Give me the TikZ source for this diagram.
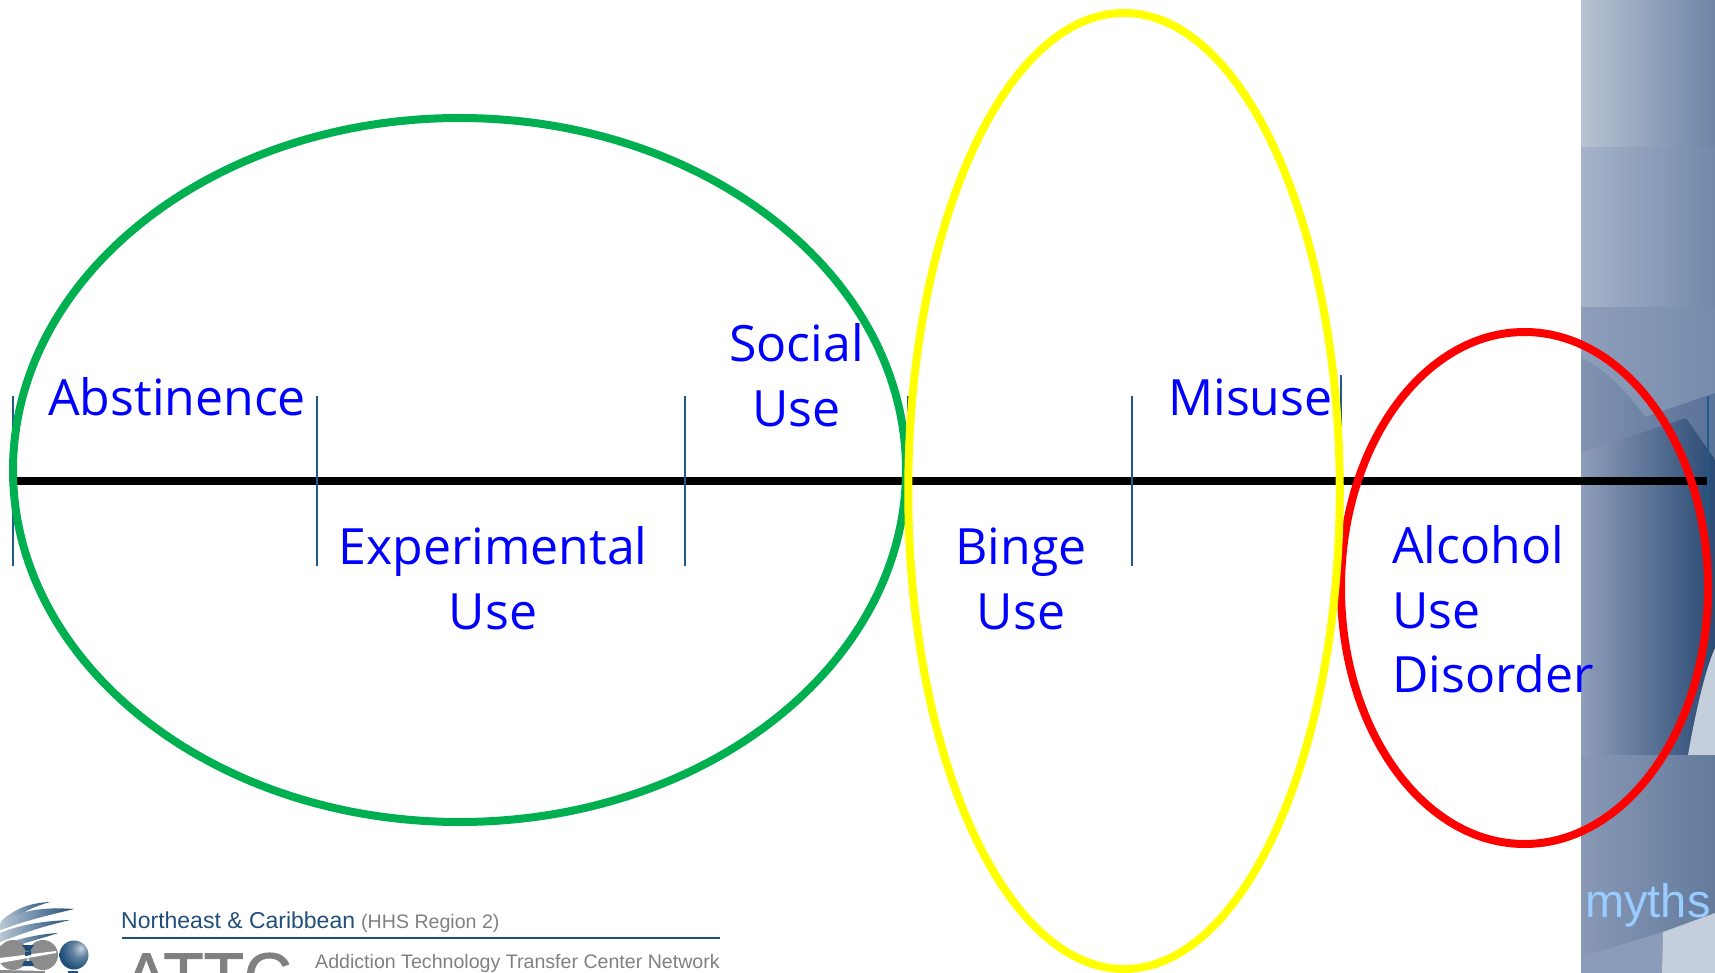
\documentclass[tikz,border=0pt]{standalone}
\usepackage{fontspec}
\setmainfont{Open Sans}
\newfontfamily\arialf{Liberation Sans}
\newfontfamily\attcf[RawFeature={embolden=1.5}]{Liberation Sans}
\definecolor{labelblue}{HTML}{0000FF}
\definecolor{ovalgreen}{HTML}{00B050}
\definecolor{ovalyellow}{HTML}{FFFF00}
\definecolor{ovalred}{HTML}{FF0000}
\definecolor{tickblue}{HTML}{1F5A8A}
\definecolor{logoblue}{HTML}{1F4E79}
\definecolor{logogray}{HTML}{8C8C8C}
\pgfdeclareradialshading{logoball}{\pgfpoint{12bp}{12bp}}{color(0bp)=(white!75!logoblue);color(14bp)=(logoblue!70!white);color(32bp)=(logoblue);color(100bp)=(logoblue)}
\tikzset{
  x=1pt,y=-1pt,
  oval/.style={line width=8pt,draw},
  axisline/.style={line width=8pt,black},
  tickmark/.style={line width=2pt,tickblue},
  lab/.style={inner sep=0pt,anchor=base,text=labelblue,font=\fontsize{50}{64.5}\selectfont},
  labl/.style={lab,anchor=base west},
  stripe/.style={left color=logoblue!30,right color=logoblue,draw=none},
}
\begin{document}
\begin{tikzpicture}
\useasboundingbox (0,0) rectangle (1715,973);
\clip (0,0) rectangle (1715,973);
% side panel
\shade[left color={rgb,255:red,184;green,194;blue,210},right color={rgb,255:red,110;green,133;blue,166}] (1581,0) rectangle (1715,148);
\shade[left color={rgb,255:red,166;green,179;blue,202},right color={rgb,255:red,115;green,137;blue,170}] (1581,148) rectangle (1715,308);
\shade[left color={rgb,255:red,142;green,158;blue,187},right color={rgb,255:red,118;green,140;blue,172}] (1581,308) rectangle (1715,755);
\shade[left color={rgb,255:red,130;green,147;blue,178},right color={rgb,255:red,88;green,113;blue,150}]
  (1581,358) .. controls (1605,368) and (1625,390) .. (1645,417) -- (1715,393) -- (1715,755) -- (1581,755) -- cycle;
\shade[left color={rgb,255:red,142;green,158;blue,187},middle color={rgb,255:red,92;green,120;blue,155},right color={rgb,255:red,42;green,74;blue,115}]
  (1581,453) -- (1686,418) -- (1715,460) -- (1715,755) -- (1581,755) -- cycle;
\fill[fill={rgb,255:red,197;green,206;blue,219}] (1688,755) .. controls (1695,715) and (1705,670) .. (1715,648) -- (1715,755) -- cycle;
\shade[left color={rgb,255:red,136;green,152;blue,181},right color={rgb,255:red,100;green,123;blue,157}] (1581,755) rectangle (1715,973);
\fill[fill={rgb,255:red,139;green,155;blue,186}] (1581,957) -- (1663,932) -- (1662,973) -- (1581,973) -- cycle;
\fill[fill={rgb,255:red,197;green,206;blue,219}] (1663,932) -- (1715,913) -- (1715,973) -- (1662,973) -- cycle;
\node[anchor=base west,inner sep=0pt,text={rgb,255:red,153;green,204;blue,255},font=\arialf\fontsize{47}{47}\selectfont] (myths) at (1585,917) {myths};
% axis and ticks
\coordinate (axisL) at (14,481);
\coordinate (axisR) at (1707,481);
\draw[axisline] (axisL) -- (axisR);
\foreach \n/\x/\t/\b in {a/12.5/396/566,b/316.5/396/566,c/685/396/566,d/908/396/481,e/1132/396/566,f/1341/375/481,g/1708/396/566}{
  \coordinate (tt\n) at (\x,\t);
  \coordinate (tb\n) at (\x,\b);
  \draw[tickmark] (tt\n) -- (tb\n);
}
% ovals
\draw[oval,ovalgreen] (459.5,470) ellipse [x radius=446.5,y radius=352];
\draw[oval,ovalred] (1524.5,588) ellipse [x radius=183.5,y radius=256];
\draw[oval,ovalyellow] (1124,491) ellipse [x radius=215.75,y radius=478];
% labels
\node[labl] (abst) at (48,415) {Abstinence};
\node[lab,align=center] (soc) at (796.5,426) {Social\\Use};
\node[lab,align=center] (exp) at (493,629) {Experimental\\Use};
\node[lab,align=center] (bin) at (1021,629) {Binge\\Use};
\node[labl] (mis) at (1168,415) {Misuse};
\node[labl,align=left] (alc) at (1392,692.5) {Alcohol\\Use\\Disorder};
% logo text
\draw[line width=2pt,logoblue] (122,938) coordinate (ruleL) -- (720,938) coordinate (ruleR);
\node[anchor=base west,inner sep=0pt,text=logoblue,font=\arialf\fontsize{23}{23}\selectfont] (ne) at (121,928) {Northeast \& Caribbean};
\node[anchor=base west,inner sep=0pt,text=black!50,font=\arialf\fontsize{19.6}{19.6}\selectfont] (hhs) at (361,928) {(HHS Region 2)};
\node[anchor=base west,inner sep=0pt,text=black!50,font=\arialf\fontsize{19.6}{19.6}\selectfont] (addn) at (315,968) {Addiction Technology Transfer Center Network};
\node[anchor=base west,inner sep=0pt,text=black!50,font=\attcf\fontsize{66}{66}\selectfont] (attc) at (124,999) {ATTC};
% logo mark
\shade[stripe] (0,922) .. controls (15,908) and (30,903) .. (50,902) .. controls (35,906) and (22,912) .. (8,923) -- cycle;
\shade[stripe] (-2,925) .. controls (20,909) and (45,907) .. (74,909) .. controls (50,915) and (30,919) .. (-2,931) -- cycle;
\shade[stripe] (-2,934) .. controls (20,924) and (45,921) .. (70,920) .. controls (45,926) and (25,932) .. (-2,943) -- cycle;
\shade[stripe] (-2,946) .. controls (20,938) and (40,934) .. (58,933) .. controls (40,939) and (20,944) .. (-2,952) -- cycle;
\fill[logogray] (13,955) circle (15);
\fill[logogray] (43,955) circle (15);
\fill[logoblue] (22,945) -- (34,945) -- (30,951) -- (26,951) -- cycle;
\fill[logoblue] (24,961) -- (32,961) -- (34,966) -- (22,966) -- cycle;
\fill[white] (0,958) -- (56,951) -- (56,953) -- (0,963) -- cycle;
\fill[logoblue] (25,952) -- (31,951) -- (31,955) -- (25,956) -- cycle;
\shade[shading=logoball] (74,955) circle (14.5);
\fill[logogray] (0,970) -- (45,971) -- (45,973) -- (0,973) -- cycle;
\fill[logoblue] (68,971) -- (78,971) -- (78,973) -- (68,973) -- cycle;
\end{tikzpicture}
\end{document}
